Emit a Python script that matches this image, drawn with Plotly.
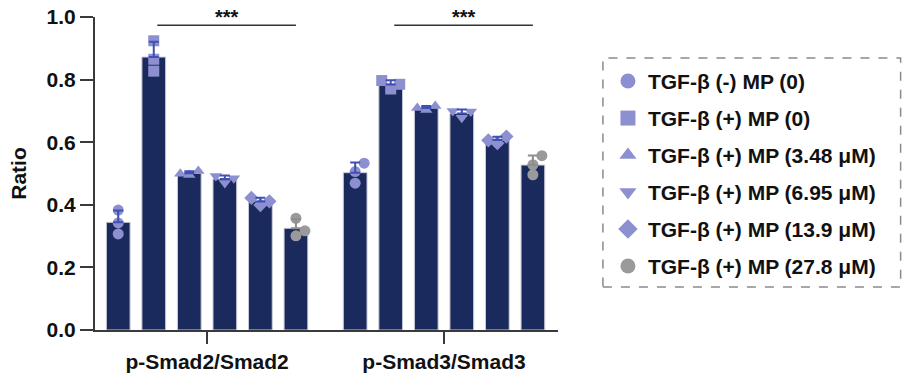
import numpy as np
import plotly.graph_objects as go

# ---------------- data ----------------
categories = ["p-Smad2/Smad2", "p-Smad3/Smad3"]
conditions = [
    "TGF-β (-) MP (0)",
    "TGF-β (+) MP (0)",
    "TGF-β (+) MP (3.48 μM)",
    "TGF-β (+) MP (6.95 μM)",
    "TGF-β (+) MP (13.9 μM)",
    "TGF-β (+) MP (27.8 μM)",
]
# replicate values per condition: [Smad2 replicates, Smad3 replicates]
rep_neg_mp0 = [[0.383, 0.342, 0.307], [0.533, 0.506, 0.469]]
rep_pos_mp0 = [[0.924, 0.865, 0.827], [0.770, 0.797, 0.785]]
rep_mp348 = [[0.495, 0.508, 0.499], [0.703, 0.716, 0.709]]
rep_mp695 = [[0.470, 0.492, 0.485], [0.678, 0.700, 0.698]]
rep_mp139 = [[0.399, 0.422, 0.411], [0.597, 0.618, 0.606]]
rep_mp278 = [[0.357, 0.317, 0.301], [0.557, 0.528, 0.496]]
replicates = [rep_neg_mp0, rep_pos_mp0, rep_mp348, rep_mp695, rep_mp139, rep_mp278]
significance = ["***", "***"]
y_ticks = [0.0, 0.2, 0.4, 0.6, 0.8, 1.0]

# ---------------- styles ----------------
symbols = ["circle", "square", "triangle-up", "triangle-down", "diamond", "circle"]
point_colors = ["#8c90d0"] * 5 + ["#9a9a9c"]
err_colors = ["#3f4fb3"] * 5 + ["#8e8e90"]
bar_color = "#1b2a5c"
FONT = "Liberation Sans"
FS = 21

n = len(conditions)
step = 0.15       # distance between bar centres within a group
bar_w = 0.10
x_px = 237.0      # pixels per category unit
y_px = 313.0      # pixels per y unit


def offsets(i):
    return [c + (i - (n - 1) / 2) * step for c in range(len(categories))]


def swarm(vals, centre, diam=9.6, shift=9.0):
    order = np.argsort(vals)
    placed = []
    xs = [0.0] * len(vals)
    for k in order:
        v = vals[k]
        for dx in (0.0, shift, -shift):
            ok = True
            for (px, py) in placed:
                if ((px - dx) ** 2 + ((py - v) * y_px) ** 2) ** 0.5 < diam:
                    ok = False
                    break
            if ok:
                break
        placed.append((dx, v))
        xs[k] = centre + dx / x_px
    return xs


fig = go.Figure()

# bars
for i in range(n):
    means = [float(np.mean(r)) for r in replicates[i]]
    fig.add_trace(go.Bar(
        x=offsets(i), y=means, width=bar_w,
        marker=dict(color=bar_color, line=dict(color="#c9cad6", width=1)),
        showlegend=False, hoverinfo="skip",
    ))

# individual points
for i in range(n):
    xs, ys = [], []
    for c, r in enumerate(replicates[i]):
        xs += swarm(r, offsets(i)[c])
        ys += list(r)
    fig.add_trace(go.Scatter(
        x=xs, y=ys, mode="markers",
        marker=dict(symbol=symbols[i], color=point_colors[i], size=11, line=dict(width=0)),
        showlegend=False,
    ))

# error bars (mean + SD, upward only)
for i in range(n):
    means = [float(np.mean(r)) for r in replicates[i]]
    sds = [float(np.std(r, ddof=1)) for r in replicates[i]]
    fig.add_trace(go.Scatter(
        x=offsets(i), y=means, mode="markers",
        marker=dict(size=1, color="rgba(0,0,0,0)"),
        error_y=dict(type="data", symmetric=False, array=sds,
                     arrayminus=[0] * len(sds), color=err_colors[i],
                     thickness=2, width=5),
        showlegend=False, hoverinfo="skip",
    ))

# legend entries
for i in range(n):
    fig.add_trace(go.Scatter(
        x=[None], y=[None], mode="markers", name=conditions[i],
        legendgroup=f"g{i}",
        marker=dict(symbol=symbols[i], color=point_colors[i], size=15, line=dict(width=0)),
    ))

# significance lines
sig_y = 0.974
for c, s in enumerate(significance):
    x0 = offsets(1)[c] + 0.015
    x1 = offsets(n - 1)[c]
    fig.add_shape(type="line", xref="x", yref="y", x0=x0, x1=x1, y0=sig_y, y1=sig_y,
                  line=dict(color="#333333", width=1.5))
    fig.add_annotation(x=(x0 + x1) / 2, y=sig_y, text=s, showarrow=False,
                       yanchor="bottom", yshift=-5,
                       font=dict(family=FONT, size=20, color="#111111", weight="bold"))

# dashed legend frame
fig.add_shape(type="rect", xref="paper", yref="paper",
              x0=1.097, x1=1.74, y0=0.137, y1=0.869,
              line=dict(color="#8a8a8a", width=1.5, dash="dash"))

fig.update_layout(
    width=902, height=373,
    margin=dict(l=95, r=344, t=17, b=43, autoexpand=False),
    paper_bgcolor="white", plot_bgcolor="white",
    barmode="overlay",
    font=dict(family=FONT, size=FS, color="#111111", weight="bold"),
    showlegend=True,
    legend=dict(xref="container", yref="container", x=0.674, y=0.8367,
                xanchor="left", yanchor="top", maxheight=1000,
                font=dict(family=FONT, size=FS, color="#111111", weight="bold"),
                tracegroupgap=6.7, bgcolor="rgba(0,0,0,0)", itemclick=False),
    xaxis=dict(range=[-0.473, 1.481], tickvals=list(range(len(categories))),
               ticktext=categories, showline=True, linecolor="#3a3a3a", linewidth=2,
               ticks="outside", ticklen=12, tickwidth=2, tickcolor="#3a3a3a",
               showgrid=False, zeroline=False, automargin=False,
               ticklabeloverflow="allow",
               tickfont=dict(family=FONT, size=FS, color="#111111", weight="bold")),
    yaxis=dict(range=[0, 1.0], tickvals=y_ticks, tickformat=".1f",
               showline=True, linecolor="#3a3a3a", linewidth=2,
               ticks="outside", ticklen=13, tickwidth=2, tickcolor="#3a3a3a",
               showgrid=False, zeroline=False, automargin=False,
               ticklabeloverflow="allow",
               title=dict(text="Ratio", standoff=14,
                          font=dict(family=FONT, size=FS, color="#111111", weight="bold")),
               tickfont=dict(family=FONT, size=FS, color="#111111", weight="bold")),
)

fig.write_html("out.html", config={"displayModeBar": False},
               post_script="document.body.style.margin='0';")
